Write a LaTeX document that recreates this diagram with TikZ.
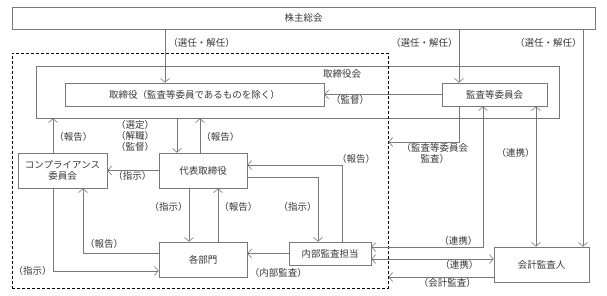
\documentclass[tikz,border=0pt]{standalone}
\usepackage{fontspec}
\setmainfont{Noto Sans CJK JP}
\usepackage{tikz}
\usetikzlibrary{arrows.meta}
\definecolor{linegray}{RGB}{120,120,120}
\definecolor{textgray}{RGB}{55,55,55}
\newcommand{\lblfont}{\fontsize{9.5}{11}\selectfont}

\begin{document}
\begin{tikzpicture}[
    x=1pt, y=-1pt,
    font=\lblfont,
    box/.style={draw=linegray, line width=0.6pt, align=center, inner sep=0pt, text=textgray},
    lab/.style={text=textgray, inner sep=1pt, align=center},
    arr/.style={draw=linegray, line width=0.6pt, -{Straight Barb[length=4pt, width=9pt]}},
    arrboth/.style={draw=linegray, line width=0.6pt, {Straight Barb[length=4pt, width=9pt]}-{Straight Barb[length=4pt, width=9pt]}}
]
\useasboundingbox (0,0) rectangle (607,295);

\node[box, minimum width=583pt, minimum height=22pt] (soukai) at (303.5,18) {株主総会};
\node[box, minimum width=523pt, minimum height=52pt] (board) at (297.5,92) {};
\node[lab] (boardname) at (342,74) {取締役会};
\node[box, minimum width=259pt, minimum height=23pt] (director) at (194.5,94.5) {取締役（監査等委員であるものを除く）};
\node[box, minimum width=105pt, minimum height=23pt] (auditcom) at (494.5,94.5) {監査等委員会};
\node[box, minimum width=89pt, minimum height=35pt] (compliance) at (62.5,170.5) {コンプライアンス\\委員会};
\node[box, minimum width=88pt, minimum height=35pt] (ceo) at (203,170.5) {代表取締役};
\node[box, minimum width=88pt, minimum height=35pt] (depts) at (203,259.5) {各部門};
\node[box, minimum width=82pt, minimum height=23pt] (internal) at (330,253.5) {内部監査担当};
\node[box, minimum width=95pt, minimum height=35pt] (auditor) at (541.5,264.5) {会計監査人};
\node[draw=black, line width=0.7pt, dash pattern=on 3pt off 2pt, inner sep=0pt, minimum width=376pt, minimum height=235pt] (grp) at (200,170.5) {};

\draw[arr] (soukai.south -| 165,0) -- node[lab, right, pos=.26, xshift=2pt] {（選任・解任）} (director.north -| 165,0);
\draw[arr] (soukai.south -| 459,0) -- node[lab, left, pos=.26] {（選任・解任）} (auditcom.north -| 459,0);
\draw[arr] (soukai.south -| 583,0) -- node[lab, left, pos=.064] {（選任・解任）} (auditor.north -| 583,0);
\draw[arr] (auditcom.west) -- node[lab, below, pos=.78] {（監督）} (director.east);
\draw[arr] (compliance.north -| 53,0) -- node[lab, right, pos=.46] {（報告）} (board.south -| 53,0);
\draw[arr] (board.south -| 177,0) -- node[lab, xshift=-42pt] {（選定）\\（解職）\\（監督）} (ceo.north -| 177,0);
\draw[arr] (ceo.north -| 200,0) -- node[lab, right, pos=.46] {（報告）} (board.south -| 200,0);
\draw[arr] (ceo.west) -- node[lab, below, pos=.51] {（指示）} (compliance.east);
\draw[arr] (ceo.south -| 189,0) -- node[lab, left, pos=.35] {（指示）} (depts.north -| 189,0);
\draw[arr] (depts.north -| 218,0) -- node[lab, right, pos=.65] {（報告）} (ceo.south -| 218,0);
\draw[arr] (depts.west |- 0,253) -| node[lab, above=3pt, pos=.36] {（報告）} (compliance.south -| 83,0);
\draw[arr] (compliance.south -| 53,0) |- node[lab, left, pos=.5] {（指示）} (depts.west |- 0,271);
\draw[arr] (internal.west) -- node[lab, below=14pt, pos=.25] {（内部監査）} (depts.east |- internal.west);
\draw[arr] (ceo.east |- 0,177) -| node[lab, left, pos=.73] {（指示）} (internal.north -| 318,0);
\draw[arr] (internal.north -| 342,0) |- node[lab, above, pos=.5, xshift=14pt] {（報告）} (ceo.east |- 0,165);
\draw[arr] (auditcom.south -| 459,0) |- node[lab, below, pos=.67] {（監査等委員会\\監査）} (grp.east |- 0,142);
\draw[arrboth] (auditcom.south -| 483,0) |- node[lab, above, pos=.61] {（連携）} (internal.east |- 0,247);
\draw[arrboth] (auditcom.south -| 536,0) -- node[lab, left, pos=.33] {（連携）} (auditor.north -| 536,0);
\draw[arrboth] (internal.east |- 0,259) -- node[lab, below, pos=.72] {（連携）} (auditor.west |- 0,259);
\draw[arr] (auditor.west |- 0,277) -- node[lab, below, pos=.44] {（会計監査）} (grp.east |- 0,277);
\end{tikzpicture}
\end{document}
